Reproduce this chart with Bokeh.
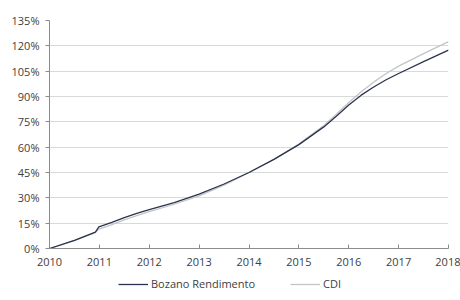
from bokeh.plotting import figure
from bokeh.layouts import column
from bokeh.models import (ColumnDataSource, Range1d, FixedTicker, Legend, LegendItem,
                          PrintfTickFormatter)
from bokeh.embed import file_html
from bokeh.resources import INLINE

# time (fractional year) and cumulative return (%)
t_bozano = [2010.0, 2010.5, 2010.92, 2010.99, 2011.25, 2011.5, 2011.75, 2012.0, 2012.5,
            2013.0, 2013.5, 2014.0, 2014.5, 2015.0, 2015.5, 2015.75, 2016.0, 2016.25,
            2016.5, 2016.75, 2017.0, 2017.5, 2018.0]
v_bozano = [0, 4.8, 9.7, 12.8, 15.5, 18.3, 20.8, 23.0, 27.2,
            32.2, 38.2, 45.0, 52.8, 61.5, 72.0, 78.3, 85.0, 90.8,
            95.6, 99.9, 103.6, 110.6, 117.5]
t_cdi = [2010.0, 2010.5, 2010.92, 2010.99, 2011.25, 2011.5, 2011.75, 2012.0, 2012.5,
         2013.0, 2013.5, 2014.0, 2014.5, 2015.0, 2015.5, 2015.75, 2016.0, 2016.25,
         2016.5, 2016.75, 2017.0, 2017.5, 2018.0]
v_cdi = [0, 4.7, 9.4, 11.5, 14.2, 17.0, 19.5, 21.8, 26.2,
         31.2, 37.5, 45.0, 52.8, 61.8, 72.8, 79.5, 86.5, 92.8,
         98.5, 103.6, 108.0, 115.4, 122.5]
x_ticks = [2010, 2011, 2012, 2013, 2014, 2015, 2016, 2017, 2018]
y_ticks = [0, 15, 30, 45, 60, 75, 90, 105, 120, 135]
series_names = ["Bozano Rendimento", "CDI"]
series_colors = ["#2b3350", "#c4c4c4"]

FONT = "Open Sans"
TXT = "#404040"

p = figure(width=460, height=274, output_backend="svg", toolbar_location=None,
           x_range=Range1d(2010, 2018), y_range=Range1d(0, 135),
           min_border_left=49, min_border_right=12, min_border_top=20, min_border_bottom=26)
p.outline_line_color = None

p.xaxis.ticker = FixedTicker(ticks=x_ticks)
p.yaxis.ticker = FixedTicker(ticks=y_ticks)
p.xaxis.formatter = PrintfTickFormatter(format="%d")
p.yaxis.formatter = PrintfTickFormatter(format="%d%%")
for ax in (p.xaxis, p.yaxis):
    ax.axis_line_color = "#8c8c8c"
    ax.major_tick_line_color = "#8c8c8c"
    ax.minor_tick_line_color = None
    ax.major_label_text_font = FONT
    ax.major_label_text_font_size = "11px"
    ax.major_label_text_color = TXT
p.xaxis.major_tick_in = 4
p.xaxis.major_tick_out = 0
p.xaxis.major_label_standoff = 9
p.yaxis.major_tick_in = 0
p.yaxis.major_tick_out = 4
p.yaxis.major_label_standoff = 6

p.xgrid.grid_line_color = None
p.ygrid.grid_line_color = "#d9d9d9"
p.ygrid.ticker = FixedTicker(ticks=y_ticks)

src_c = ColumnDataSource(dict(x=t_cdi, y=v_cdi))
src_b = ColumnDataSource(dict(x=t_bozano, y=v_bozano))
p.line("x", "y", source=src_c, line_color=series_colors[1], line_width=1.3)
p.line("x", "y", source=src_b, line_color=series_colors[0], line_width=1.3)

# legend strip below the chart (frames are aligned with the chart above)
q = figure(width=460, height=26, output_backend="svg", toolbar_location=None,
           x_range=Range1d(0, 1), y_range=Range1d(0, 1),
           x_axis_type=None, y_axis_type=None,
           min_border_left=0, min_border_right=0, min_border_top=0, min_border_bottom=0)
q.outline_line_color = None
q.xgrid.visible = False
q.ygrid.visible = False

for name, col, xpos in zip(series_names, series_colors, [69, 241]):
    # off-view line, used only as the legend's sample glyph
    r = q.line(x=[2, 3], y=[2, 2], line_color=col, line_width=1.3)
    lg = Legend(items=[LegendItem(label=name, renderers=[r])], location=(xpos, 9),
                orientation="horizontal", padding=0, margin=0, spacing=0,
                glyph_width=30, glyph_height=12, label_height=12, label_standoff=3,
                label_text_font=FONT, label_text_font_size="11px", label_text_color=TXT,
                border_line_color=None, background_fill_alpha=0)
    q.add_layout(lg, "center")

layout = column(p, q, spacing=0)
open("out.html", "w").write(file_html(layout, INLINE))
